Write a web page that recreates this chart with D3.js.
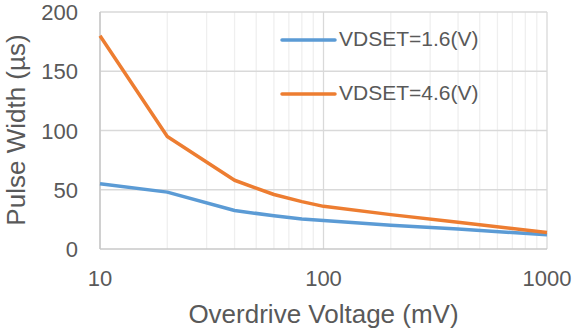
<!DOCTYPE html>
<html>
<head>
<meta charset="utf-8">
<script src="https://cdn.jsdelivr.net/npm/d3@7"></script>
<style>
  body { margin: 0; background: #fff; }
  #graphic { width: 576px; height: 331px; }
  text { font-family: "Liberation Sans", Arial, sans-serif; fill: #595959; }
</style>
</head>
<body>
<div id="graphic"></div>
<script>
// data
const voltages = [10, 20, 40, 60, 80, 100, 200, 400, 1000];
const vdset16 = [55, 48, 32.5, 28, 25.3, 24, 20, 16.8, 12];
const vdset46 = [180, 95, 58, 46, 40, 36, 29, 22.5, 14];
const seriesNames = ["VDSET=1.6(V)", "VDSET=4.6(V)"];
const seriesColors = ["#5b9bd5", "#ed7d31"];
const yTicks = [0, 50, 100, 150, 200];
const xTicks = [10, 100, 1000];

const margin = { left: 100, right: 29, top: 12, bottom: 82 };
const outerWidth = 576, outerHeight = 331;
const width = outerWidth - margin.left - margin.right;
const height = outerHeight - margin.top - margin.bottom;

const svg = d3.select("#graphic")
  .append("svg")
  .attr("width", outerWidth)
  .attr("height", outerHeight);

const plot = svg.append("g")
  .attr("transform", `translate(${margin.left}, ${margin.top})`);

const xScale = d3.scaleLog().domain([10, 1000]).range([0, width]);
const yScale = d3.scaleLinear().domain([0, 200]).range([height, 0]);

// minor vertical grid
const minor = [];
[10, 100].forEach(dec => { for (let k = 2; k <= 9; k++) minor.push(dec * k); });
plot.append("g").selectAll("line")
  .data(minor)
  .enter().append("line")
  .attr("x1", d => xScale(d)).attr("x2", d => xScale(d))
  .attr("y1", 0).attr("y2", height)
  .attr("stroke", "#efefef").attr("stroke-width", 1.3);

// major vertical grid
plot.append("g").selectAll("line")
  .data(xTicks)
  .enter().append("line")
  .attr("x1", d => xScale(d)).attr("x2", d => xScale(d))
  .attr("y1", 0).attr("y2", height)
  .attr("stroke", "#d9d9d9").attr("stroke-width", 1.3);

// horizontal grid
plot.append("g").selectAll("line")
  .data(yTicks.slice(1))
  .enter().append("line")
  .attr("x1", 0).attr("x2", width)
  .attr("y1", d => yScale(d)).attr("y2", d => yScale(d))
  .attr("stroke", "#d9d9d9").attr("stroke-width", 1.3);

// axes lines
plot.append("line")
  .attr("x1", 0).attr("x2", width).attr("y1", height).attr("y2", height)
  .attr("stroke", "#c8c8c8").attr("stroke-width", 1.5);
plot.append("line")
  .attr("x1", 0).attr("x2", 0).attr("y1", 0).attr("y2", height)
  .attr("stroke", "#c8c8c8").attr("stroke-width", 1.5);

// tick labels
plot.append("g").selectAll("text")
  .data(yTicks)
  .enter().append("text")
  .attr("x", -22)
  .attr("y", d => yScale(d) + 8)
  .attr("text-anchor", "end")
  .style("font-size", "22px")
  .text(d => d);

plot.append("g").selectAll("text")
  .data(xTicks)
  .enter().append("text")
  .attr("x", d => xScale(d))
  .attr("y", height + 37)
  .attr("text-anchor", "middle")
  .style("font-size", "22px")
  .text(d => d);

// series
const line = d3.line()
  .x(d => xScale(d[0]))
  .y(d => yScale(d[1]));

[vdset16, vdset46].forEach((vals, i) => {
  plot.append("path")
    .datum(voltages.map((v, j) => [v, vals[j]]))
    .attr("fill", "none")
    .attr("stroke", seriesColors[i])
    .attr("stroke-width", 3.5)
    .attr("stroke-linejoin", "round")
    .attr("d", line);
});

// legend
const legend = svg.append("g");
seriesNames.forEach((name, i) => {
  const y = 40 + i * 54;
  legend.append("line")
    .attr("x1", 282).attr("x2", 335)
    .attr("y1", y).attr("y2", y)
    .attr("stroke", seriesColors[i])
    .attr("stroke-width", 3.5)
    .attr("stroke-linecap", "round");
  legend.append("text")
    .attr("x", 339)
    .attr("y", y + 6)
    .style("font-size", "21px")
    .text(name);
});

// axis titles
svg.append("text")
  .attr("x", margin.left + width / 2)
  .attr("y", 323)
  .attr("text-anchor", "middle")
  .style("font-size", "26px")
  .text("Overdrive Voltage (mV)");

svg.append("text")
  .attr("transform", "translate(25, 130) rotate(-90)")
  .attr("text-anchor", "middle")
  .style("font-size", "26px")
  .text("Pulse Width (µs)");
</script>
</body>
</html>
